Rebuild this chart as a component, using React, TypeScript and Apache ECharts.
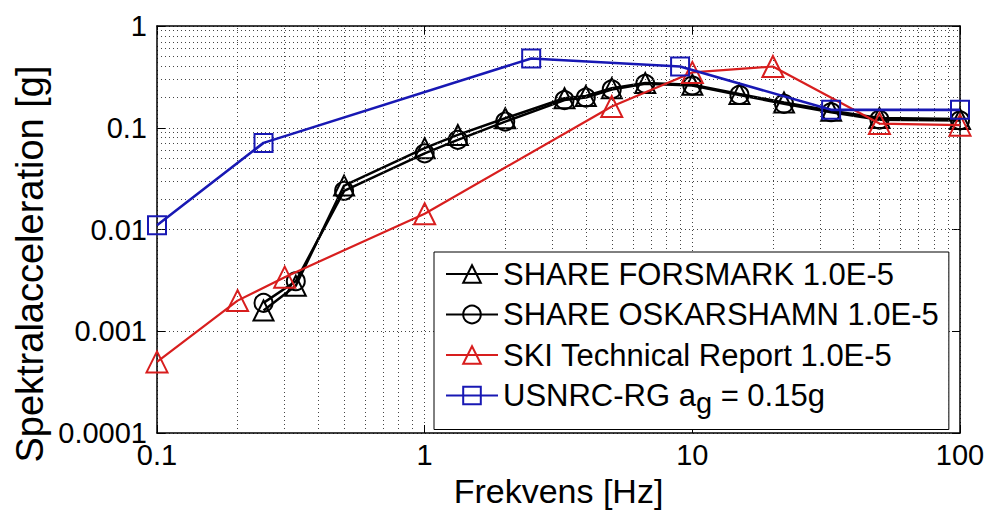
import React, { useEffect, useRef } from 'react';
import * as echarts from 'echarts';

const FONT = '"Liberation Sans", Arial, Helvetica, sans-serif';

// SHARE (black) spectra
const freqShare = [0.25, 0.33, 0.5, 1, 1.33, 2, 3.33, 4, 5, 6.67, 10, 15, 22, 33, 50, 100];
const forsmark = [0.0016, 0.0028, 0.027, 0.063, 0.085, 0.124, 0.195, 0.205, 0.245, 0.275, 0.265, 0.215, 0.177, 0.147, 0.125, 0.122];
const oskarshamn = [0.0019, 0.0031, 0.024, 0.056, 0.076, 0.115, 0.187, 0.198, 0.238, 0.27, 0.26, 0.21, 0.172, 0.142, 0.12, 0.118];
// SKI Technical Report (red)
const freqSki = [0.1, 0.2, 0.3, 1, 5, 10, 20, 50, 100];
const ski = [0.0005, 0.002, 0.0034, 0.0143, 0.162, 0.35, 0.4, 0.11, 0.106];
// USNRC-RG (blue)
const freqUsnrc = [0.1, 0.25, 2.5, 9, 33, 100];
const usnrc = [0.011, 0.071, 0.48, 0.4, 0.15, 0.15];

const seriesNames = [
  'SHARE FORSMARK 1.0E-5',
  'SHARE OSKARSHAMN 1.0E-5',
  'SKI Technical Report 1.0E-5',
  'USNRC-RG a_g = 0.15g',
];
const xTitle = 'Frekvens [Hz]';
const yTitle = 'Spektralacceleration [g]';

// minor grid positions (decade starts and multipliers)
const xDecades = [0.1, 1, 10];
const yDecades = [0.0001, 0.001, 0.01, 0.1];
const minorMultipliers = [2, 3, 4, 5, 6, 7, 8, 9];

const BLACK = '#000000';
const RED = '#d81e1e';
const BLUE = '#1818b4';

const gridLineStyle = { color: '#444', type: [1, 3] as any, width: 1 };

function fmt(v: number) {
  return String(Number(Number(v).toPrecision(6)));
}

export default function App() {
  const ref = useRef<HTMLDivElement>(null);

  useEffect(() => {
    if (!ref.current) return;
    const chart = echarts.init(ref.current, undefined, { renderer: 'svg' });

    const mk = (name: string, xs: number[], ys: number[], color: string, symbol: string, size: number, width: number, z: number) => ({
      name,
      type: 'line',
      data: xs.map((x, i) => [x, ys[i]]),
      symbol,
      symbolSize: size,
      showSymbol: true,
      z,
      lineStyle: { color, width },
      itemStyle: { color: 'rgba(255,255,255,0)', borderColor: color, borderWidth: 2 },
      emphasis: { disabled: true },
    });

    const minorX: number[] = [];
    xDecades.forEach((d) => minorMultipliers.forEach((m) => minorX.push(Number((d * m).toPrecision(6)))));
    const minorY: number[] = [];
    yDecades.forEach((d) => minorMultipliers.forEach((m) => minorY.push(Number((d * m).toPrecision(6)))));

    const axisLine = { show: true, onZero: false, lineStyle: { color: '#000', width: 1.5 } };
    const axisTick = { show: true, inside: true, length: 8, lineStyle: { color: '#000', width: 1 } };

    const option: any = {
      animation: false,
      backgroundColor: '#fff',
      grid: { left: 157, right: 29, top: 26, bottom: 77, containLabel: false, outerBoundsMode: 'none' },
      graphic: [
        {
          type: 'text',
          x: 30,
          y: 264,
          rotation: Math.PI / 2,
          silent: true,
          style: {
            text: yTitle,
            fontSize: 38,
            fontFamily: FONT,
            fill: '#000',
            align: 'center',
            verticalAlign: 'middle',
          },
        },
      ],
      xAxis: [
        {
          type: 'log',
          logBase: 10,
          min: 0.1,
          max: 100,
          position: 'bottom',
          axisLine,
          axisTick,
          axisLabel: { fontSize: 29, color: '#000', fontFamily: FONT, margin: 7, formatter: fmt, showMinLabel: true, showMaxLabel: true },
          splitLine: { show: true, lineStyle: gridLineStyle },
          name: xTitle,
          nameLocation: 'middle',
          nameGap: 41,
          nameMoveOverlap: false,
          nameTextStyle: { fontSize: 34, color: '#000', fontFamily: FONT },
        },
        {
          type: 'log',
          logBase: 10,
          min: 0.1,
          max: 100,
          position: 'top',
          axisLine,
          axisTick,
          axisLabel: { show: false },
          splitLine: { show: false },
        },
      ],
      yAxis: [
        {
          type: 'log',
          logBase: 10,
          min: 0.0001,
          max: 1,
          position: 'left',
          axisLine,
          axisTick,
          axisLabel: { fontSize: 29, color: '#000', fontFamily: FONT, margin: 10, formatter: fmt, showMinLabel: true, showMaxLabel: true },
          splitLine: { show: true, lineStyle: gridLineStyle },
        },
        {
          type: 'log',
          logBase: 10,
          min: 0.0001,
          max: 1,
          position: 'right',
          axisLine,
          axisTick,
          axisLabel: { show: false },
          splitLine: { show: false },
        },
      ],
      legend: {
        data: seriesNames,
        orient: 'vertical',
        left: 434,
        top: 252,
        padding: [0, 10, 12, 11],
        itemGap: -3.5,
        itemWidth: 52,
        itemHeight: 22,
        backgroundColor: '#fff',
        borderColor: '#000',
        borderWidth: 1,
        z: 10,
        selectedMode: false,
        textStyle: {
          fontSize: 31,
          color: '#000',
          fontFamily: FONT,
          lineHeight: 44,
          rich: {
            sub: { fontSize: 29, lineHeight: 6, verticalAlign: 'bottom', color: '#000', fontFamily: FONT },
          },
        },
        formatter: (name: string) => (name === seriesNames[3] ? 'USNRC-RG a{sub|g} = 0.15g' : name),
      },
      series: [
        {
          name: 'grid-minor',
          type: 'line',
          data: [],
          z: 1,
          silent: true,
          markLine: {
            silent: true,
            symbol: ['none', 'none'],
            label: { show: false },
            lineStyle: gridLineStyle,
            emphasis: { disabled: true },
            data: [...minorX.map((v) => ({ xAxis: v })), ...minorY.map((v) => ({ yAxis: v }))],
          },
        },
        mk(seriesNames[0], freqShare, forsmark, BLACK, 'triangle', 20, 2.5, 3),
        mk(seriesNames[1], freqShare, oskarshamn, BLACK, 'circle', 18, 2.5, 4),
        mk(seriesNames[2], freqSki, ski, RED, 'triangle', 21, 2.2, 5),
        mk(seriesNames[3], freqUsnrc, usnrc, BLUE, 'rect', 18, 2.6, 6),
      ],
    };

    chart.setOption(option);
    return () => chart.dispose();
  }, []);

  return (
    <div
      ref={ref}
      style={{ position: 'fixed', left: 0, top: 0, width: 989, height: 510, background: '#fff' }}
    />
  );
}
